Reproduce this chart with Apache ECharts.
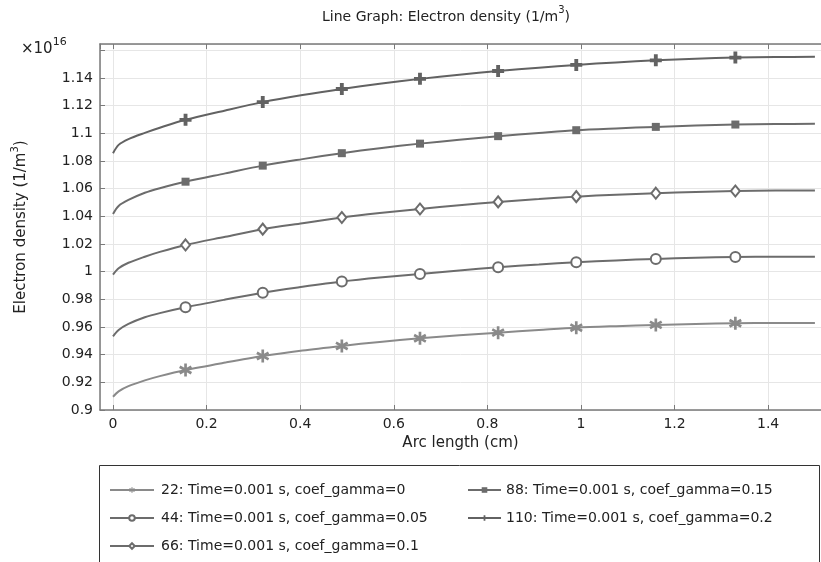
<!DOCTYPE html>
<html><head><meta charset="utf-8">
<script src="https://cdn.jsdelivr.net/npm/echarts@6/dist/echarts.min.js"></script>
<style>html,body{margin:0;padding:0;background:#fff}#c{width:821px;height:562px}</style>
</head><body><div id="c"></div>
<script>
// Arc length (cm)
const arcLength = [0, 0.012, 0.033, 0.068, 0.1, 0.155, 0.24, 0.32, 0.405, 0.489, 0.57, 0.656, 0.74, 0.823, 0.91, 0.99, 1.075, 1.16, 1.245, 1.33, 1.415, 1.5];
// indices of arcLength where the markers are drawn
const markerIdx = [5, 7, 9, 11, 13, 15, 17, 19];
// Electron density (x1e16 1/m^3)
const gamma0    = [0.9096, 0.9135, 0.9172, 0.9214, 0.9245, 0.9289, 0.9343, 0.9390, 0.9430, 0.9463, 0.9492, 0.9518, 0.9540, 0.9559, 0.9578, 0.9595, 0.9606, 0.9615, 0.9622, 0.9627, 0.9629, 0.9629];
const gamma005  = [0.9532, 0.9578, 0.9622, 0.9670, 0.9700, 0.9742, 0.9798, 0.9848, 0.9890, 0.9928, 0.9957, 0.9983, 1.0009, 1.0032, 1.0051, 1.0068, 1.0081, 1.0092, 1.0100, 1.0106, 1.0108, 1.0108];
const gamma01   = [0.9978, 1.0024, 1.0064, 1.0108, 1.0143, 1.0193, 1.0252, 1.0307, 1.0350, 1.0391, 1.0423, 1.0453, 1.0480, 1.0504, 1.0524, 1.0542, 1.0556, 1.0567, 1.0576, 1.0583, 1.0586, 1.0586];
const gamma015  = [1.0417, 1.0475, 1.0518, 1.0570, 1.0603, 1.0650, 1.0710, 1.0766, 1.0813, 1.0856, 1.0892, 1.0925, 1.0953, 1.0979, 1.1002, 1.1022, 1.1035, 1.1046, 1.1056, 1.1063, 1.1067, 1.1068];
const gamma02   = [1.0856, 1.0916, 1.0958, 1.1003, 1.1040, 1.1097, 1.1165, 1.1225, 1.1276, 1.1320, 1.1358, 1.1393, 1.1423, 1.1450, 1.1474, 1.1494, 1.1512, 1.1527, 1.1539, 1.1547, 1.1551, 1.1552];
const seriesNames = [
  '22: Time=0.001 s, coef_gamma=0',
  '44: Time=0.001 s, coef_gamma=0.05',
  '66: Time=0.001 s, coef_gamma=0.1',
  '88: Time=0.001 s, coef_gamma=0.15',
  '110: Time=0.001 s, coef_gamma=0.2'
];
const xTicks = [0, 0.2, 0.4, 0.6, 0.8, 1, 1.2, 1.4];

const FONT = 'DejaVu Sans';
const asterisk = 'path://M40,0L60,0L60,100L40,100Z M11.2,15.7L98.6,66.2L88.8,84.3L1.4,33.8Z M88.8,15.7L98.6,33.8L11.2,84.3L1.4,66.2Z';
const plus = 'path://M34,0L66,0L66,34L100,34L100,66L66,66L66,100L34,100L34,66L0,66L0,34L34,34Z';

const styles = [
  {color: '#8a8a8a', symbol: asterisk, size: 13, bw: 0},
  {color: '#6c6c6c', symbol: 'emptyCircle', size: 10, bw: 1.5},
  {color: '#6c6c6c', symbol: 'emptyDiamond', size: [9, 11], bw: 1.5},
  {color: '#6c6c6c', symbol: 'rect', size: 8, bw: 0},
  {color: '#626262', symbol: plus, size: 12, bw: 0}
];
const allData = [gamma0, gamma005, gamma01, gamma015, gamma02];

function build(vals) {
  return arcLength.map((x, i) => markerIdx.includes(i) ? [x, vals[i]] : {value: [x, vals[i]], symbol: 'none'});
}

const series = allData.map((vals, k) => ({
  name: seriesNames[k],
  type: 'line',
  data: build(vals),
  smooth: 0.3,
  symbol: styles[k].symbol,
  symbolSize: styles[k].size,
  showAllSymbol: true,
  lineStyle: {color: styles[k].color, width: 2},
  itemStyle: {color: styles[k].color, borderColor: styles[k].color, borderWidth: styles[k].bw},
  emphasis: {disabled: true},
  z: 3
}));

const axisColor = '#7a7a7a';
const fmtX = v => (xTicks.some(t => Math.abs(t - v) < 1e-6) ? String(+v.toFixed(1)) : '');
const fmtY = v => (Math.abs(v / 0.02 - Math.round(v / 0.02)) < 1e-6 && v < 1.15 ? String(+v.toFixed(2)) : '');

const chart = echarts.init(document.getElementById('c'), null, {renderer: 'canvas'});
chart.setOption({
  animation: false,
  backgroundColor: '#fff',
  textStyle: {fontFamily: FONT},
  title: {
    text: '{a|Line Graph: Electron density (1/m}{s|3}{a|)}',
    left: 441, top: 0, textAlign: 'center',
    textStyle: {fontWeight: 'normal', rich: {
      a: {fontFamily: FONT, fontSize: 14, fontWeight: 'normal', color: '#222', lineHeight: 19, verticalAlign: 'bottom'},
      s: {fontFamily: FONT, fontSize: 10, fontWeight: 'normal', color: '#222', lineHeight: 19, verticalAlign: 'top'}
    }}
  },
  grid: {left: 100, top: 44, right: 0, bottom: 152, containLabel: false},
  xAxis: [{
    type: 'value', position: 'bottom', min: -0.0278, max: 1.513, splitNumber: 8,
    name: 'Arc length (cm)', nameLocation: 'middle', nameGap: 22,
    nameTextStyle: {fontFamily: FONT, fontSize: 15, color: '#222'},
    axisLine: {show: true, onZero: false, lineStyle: {color: axisColor, width: 1.5}},
    axisTick: {show: true, inside: true, length: 5, lineStyle: {color: axisColor, width: 1}},
    axisLabel: {formatter: fmtX, fontFamily: FONT, fontSize: 14, color: '#222', margin: 7, showMinLabel: false, showMaxLabel: false},
    splitLine: {show: true, lineStyle: {color: '#e6e6e6', width: 1}}
  }, {
    type: 'value', position: 'top', min: -0.0278, max: 1.513, splitNumber: 8,
    axisLine: {show: true, onZero: false, lineStyle: {color: axisColor, width: 1.5}},
    axisTick: {show: true, inside: true, length: 5, lineStyle: {color: axisColor, width: 1}},
    axisLabel: {show: false},
    splitLine: {show: false}
  }],
  yAxis: {
    type: 'value', min: 0.9, max: 1.1645, interval: 0.02,
    name: '{a|Electron density (1/m}{s|3}{a|)}', nameLocation: 'middle', nameGap: 71,
    nameTextStyle: {rich: {
      a: {fontFamily: FONT, fontSize: 15, color: '#222', lineHeight: 19, verticalAlign: 'bottom'},
      s: {fontFamily: FONT, fontSize: 10, color: '#222', lineHeight: 19, verticalAlign: 'top'}
    }},
    axisLine: {show: true, onZero: false, lineStyle: {color: axisColor, width: 1.5}},
    axisTick: {show: true, inside: true, length: 5, lineStyle: {color: axisColor, width: 1}},
    axisLabel: {formatter: fmtY, fontFamily: FONT, fontSize: 14, color: '#222', margin: 7, showMaxLabel: false},
    splitLine: {show: true, lineStyle: {color: '#e6e6e6', width: 1}}
  },
  legend: [{
    orient: 'vertical', left: 109, top: 483, padding: 0, itemGap: 14, itemWidth: 44, itemHeight: 7,
    data: seriesNames.slice(0, 3), selectedMode: false,
    textStyle: {fontFamily: FONT, fontSize: 14, color: '#222', padding: [0, 0, 0, 2]}
  }, {
    orient: 'vertical', left: 467, top: 483, padding: 0, itemGap: 14, itemWidth: 33, itemHeight: 7,
    data: seriesNames.slice(3), selectedMode: false,
    textStyle: {fontFamily: FONT, fontSize: 14, color: '#222', padding: 0}
  }],
  graphic: [{
    type: 'rect', shape: {x: 99.5, y: 465.5, width: 720, height: 120},
    style: {fill: 'none', stroke: '#333', lineWidth: 1}, silent: true
  }, {
    type: 'text', left: 21, top: 37,
    style: {
      text: '{a|×10}{s|16}',
      rich: {
        a: {fontFamily: FONT, fontSize: 15, fill: '#222', lineHeight: 20, verticalAlign: 'bottom'},
        s: {fontFamily: FONT, fontSize: 11, fill: '#222', lineHeight: 20, verticalAlign: 'top'}
      }
    }
  }],
  series: series
});
</script></body></html>
